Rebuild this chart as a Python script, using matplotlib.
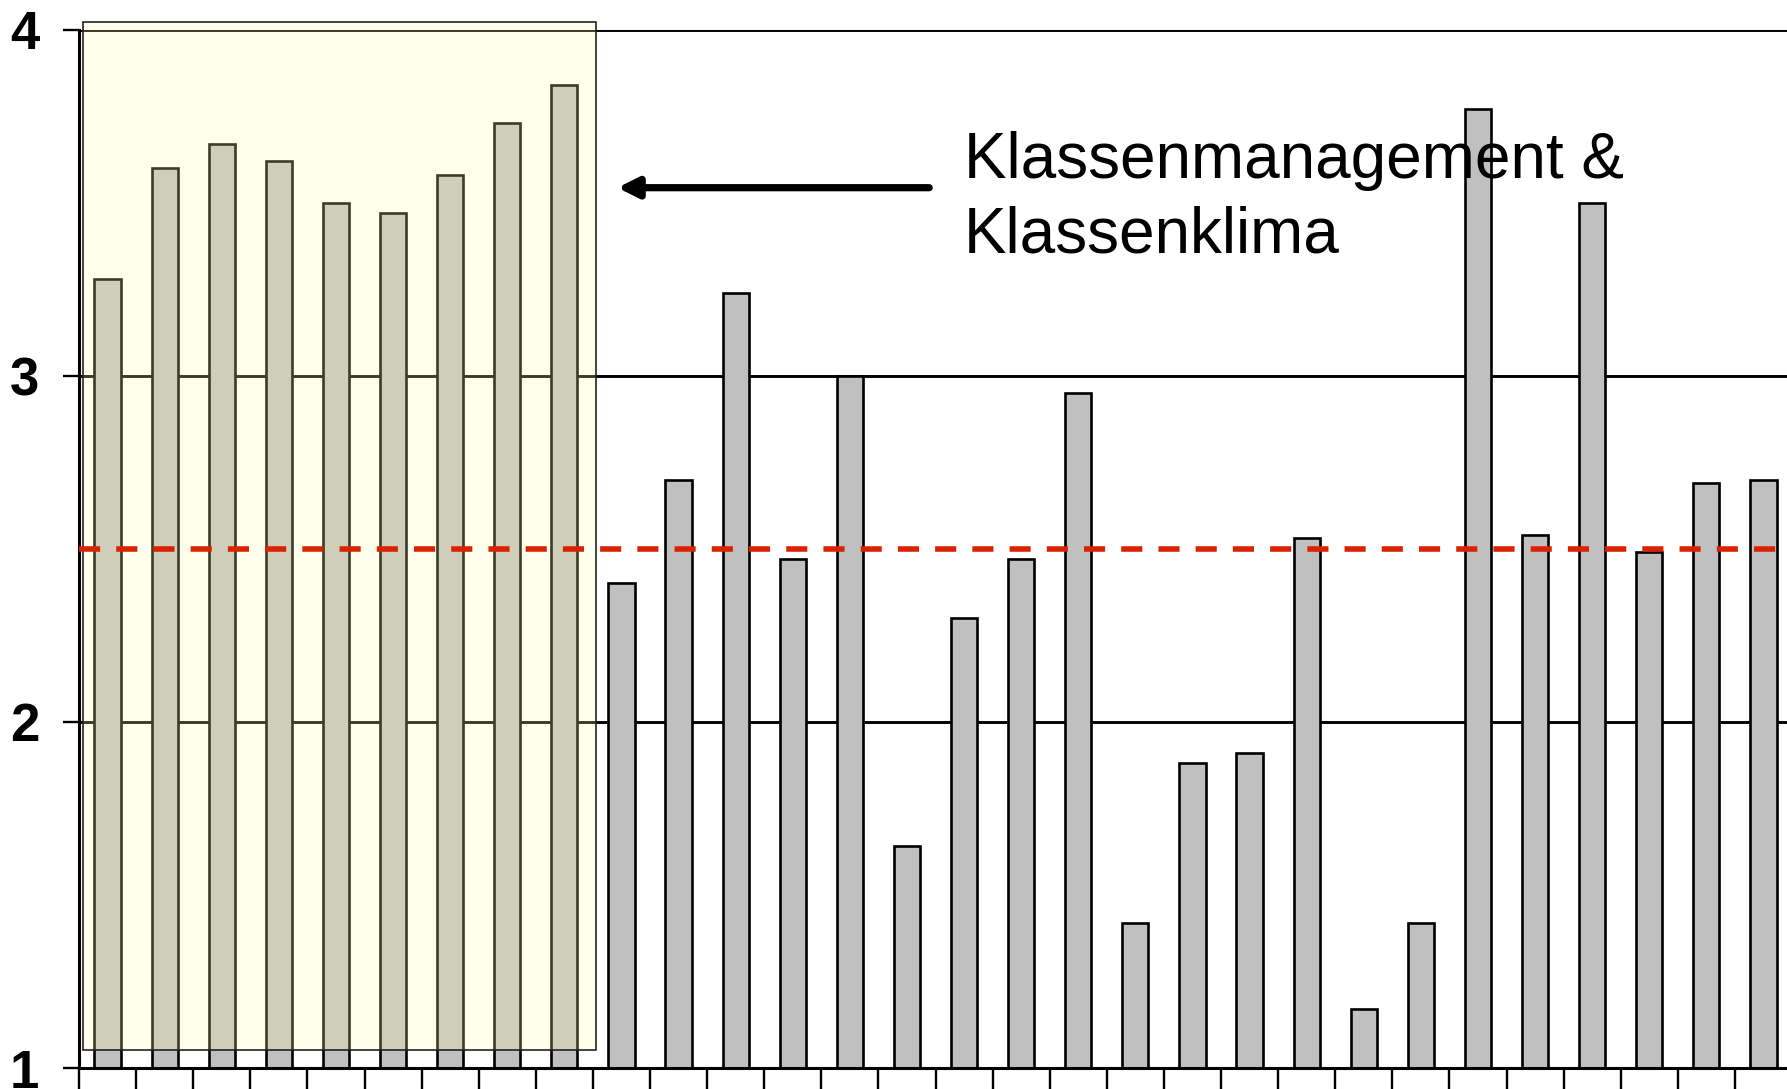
import numpy as np
import matplotlib
matplotlib.use("Agg")
import matplotlib.pyplot as plt
from matplotlib.patches import Rectangle

# bar values, 30 items; the first 9 belong to "Klassenmanagement & Klassenklima"
values = [3.28, 3.60, 3.67, 3.62, 3.50, 3.47, 3.58, 3.73, 3.84,
          2.40, 2.70, 3.24, 2.47, 3.00, 1.64, 2.30, 2.47, 2.95,
          1.42, 1.88, 1.91, 2.53, 1.17, 1.42, 3.77, 2.54, 3.50,
          2.49, 2.69, 2.70]
reference_line = 2.5
y_ticks = [1, 2, 3, 4]
group_label = "Klassenmanagement &\nKlassenklima"
group_size = 9

plt.rcParams["font.family"] = ["Liberation Sans", "DejaVu Sans"]

fig = plt.figure(figsize=(17.87, 10.89), dpi=100)
ax = fig.add_axes([79 / 1787, 21 / 1089, 1713 / 1787, 1038.5 / 1089])

x = np.arange(len(values))
ax.bar(x, np.array(values) - 1, bottom=1, width=0.46, color="#C0C0C0",
       edgecolor="black", linewidth=1.9, zorder=3)

ax.set_xlim(-0.5, len(values) - 0.5)
ax.set_ylim(1, 4)
ax.set_yticks(y_ticks)
ax.set_yticklabels([str(t) for t in y_ticks], fontsize=38, fontweight="bold")
ax.set_xticks(np.arange(len(values) + 1) - 0.5)
ax.set_xticklabels([])
ax.tick_params(axis="y", direction="out", length=11.5, width=1.7, pad=17)
ax.tick_params(axis="x", direction="out", length=20, width=1.7)
ax.yaxis.grid(True, color="black", linewidth=2.1, zorder=1)
ax.set_axisbelow(True)
for side in ["top", "right"]:
    ax.spines[side].set_visible(False)
for side in ["left", "bottom"]:
    ax.spines[side].set_linewidth(2.2)
    ax.spines[side].set_zorder(5)

# highlight box over the first group
box_left, box_bottom = -0.43, 1.052
box_w, box_h = 8.98, 2.97
ax.add_patch(Rectangle((box_left, box_bottom), box_w, box_h,
                       facecolor="#FFFFAA", alpha=0.235, edgecolor="none",
                       zorder=6, clip_on=False))
ax.add_patch(Rectangle((box_left, box_bottom), box_w, box_h,
                       facecolor="none", edgecolor="#222222", linewidth=1.2,
                       zorder=7, clip_on=False))

# dashed reference line sits on top of the highlight
ax.axhline(reference_line, color="#DA2200", linewidth=4.0, dashes=(3.8, 2.9), zorder=8)

ax.annotate("", xy=(8.93, 3.543), xytext=(14.39, 3.543),
            arrowprops=dict(arrowstyle="-|>,head_length=1.2,head_width=0.6",
                            color="black", linewidth=5.2, shrinkA=0, shrinkB=0),
            zorder=9)
ax.text(15.0, 3.706, group_label, fontsize=46, va="top", ha="left",
        linespacing=1.3, zorder=9)

fig.savefig("out.png", dpi=100)
